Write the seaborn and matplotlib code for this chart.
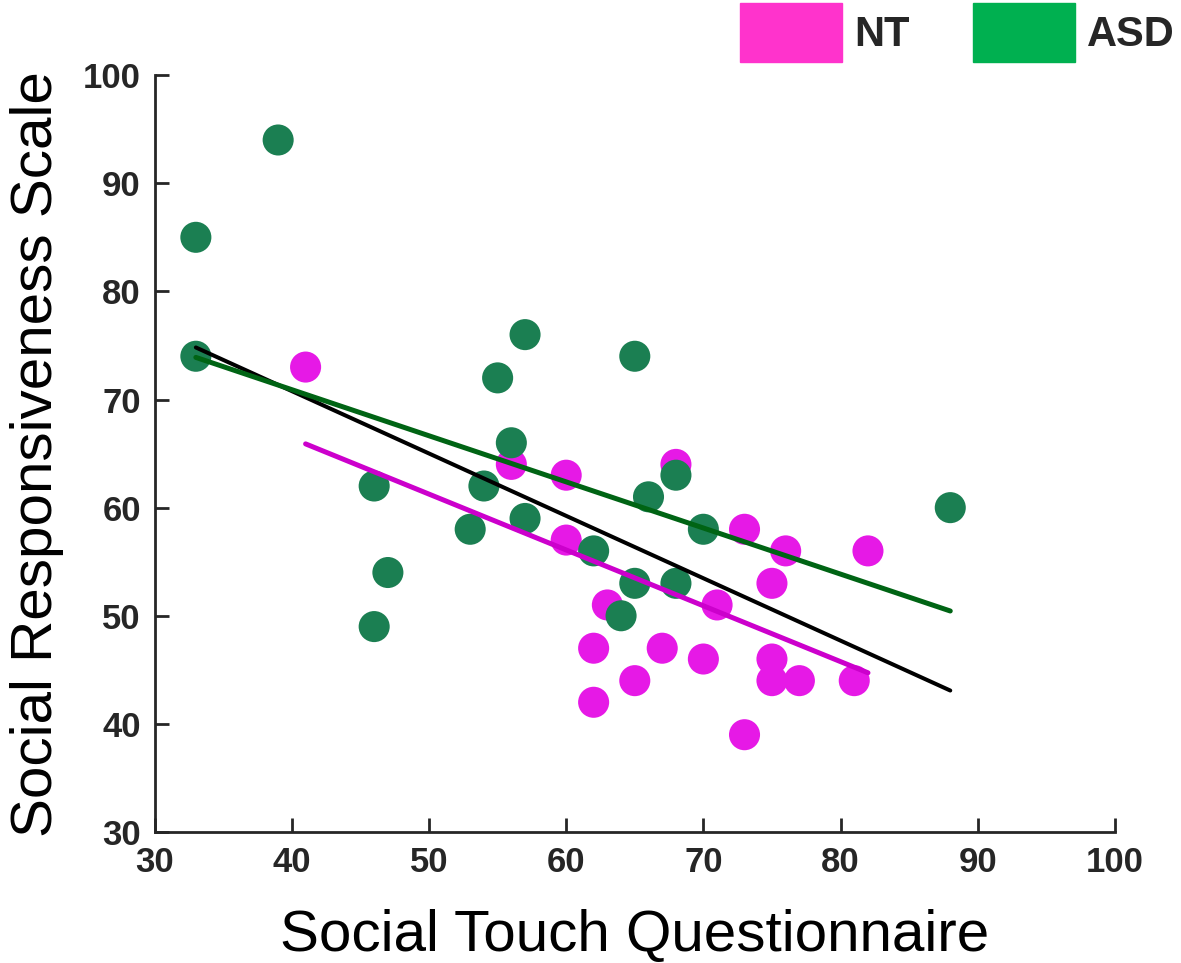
import numpy as np
import pandas as pd
import matplotlib
matplotlib.use('Agg')
import matplotlib.pyplot as plt
from matplotlib.patches import Patch
import seaborn as sns

# Social Touch Questionnaire (x) and Social Responsiveness Scale (y) per group
nt_stq = [41, 56, 60, 60, 68, 63, 62, 67, 70, 65, 62, 71, 73, 76, 82, 75, 75, 75, 77, 81, 73]
nt_srs = [73, 64, 63, 57, 64, 51, 47, 47, 46, 44, 42, 51, 58, 56, 56, 53, 46, 44, 44, 44, 39]
asd_stq = [33, 39, 33, 46, 47, 46, 55, 57, 56, 54, 53, 57, 62, 65, 66, 68, 65, 64, 68, 70, 88]
asd_srs = [85, 94, 74, 62, 54, 49, 72, 76, 66, 62, 58, 59, 56, 74, 61, 63, 53, 50, 53, 58, 60]

df = pd.DataFrame({
    'STQ': nt_stq + asd_stq,
    'SRS': nt_srs + asd_srs,
    'Group': ['NT'] * len(nt_stq) + ['ASD'] * len(asd_stq),
})

sns.set_style('ticks')
plt.rcParams['font.family'] = ['Liberation Sans', 'DejaVu Sans']

fig = plt.figure(figsize=(11.81, 9.63), dpi=100)
ax = fig.add_axes([0.131, 0.136, 0.813, 0.786])

point_colors = {'NT': '#E619E6', 'ASD': '#1B7F52'}
sns.scatterplot(data=df, x='STQ', y='SRS', hue='Group', palette=point_colors,
                s=500, linewidth=0, legend=False, ax=ax, zorder=2)

# regression lines: all subjects, NT, ASD
sns.regplot(data=df, x='STQ', y='SRS', scatter=False, ci=None, ax=ax,
            line_kws=dict(color='black', lw=2.9, zorder=3))
sns.regplot(data=df[df.Group == 'NT'], x='STQ', y='SRS', scatter=False, ci=None, ax=ax,
            line_kws=dict(color='#CC00CC', lw=3.6, zorder=4))
sns.regplot(data=df[df.Group == 'ASD'], x='STQ', y='SRS', scatter=False, ci=None, ax=ax,
            line_kws=dict(color='#006414', lw=3.6, zorder=5))

ax.set_xlim(30, 100)
ax.set_ylim(30, 100)
ax.set_xticks(range(30, 101, 10))
ax.set_yticks(range(30, 101, 10))
ax.tick_params(direction='in', length=10, width=2, color='#262626', labelsize=25, pad=10)
for lab in ax.get_xticklabels() + ax.get_yticklabels():
    lab.set_fontweight('bold')
    lab.set_color('#262626')
for sp in ['left', 'bottom']:
    ax.spines[sp].set_linewidth(2)
    ax.spines[sp].set_color('#262626')
sns.despine(ax=ax)

ax.set_xlabel('Social Touch Questionnaire', fontsize=42, labelpad=22, color='black')
ax.set_ylabel('Social Responsiveness Scale', fontsize=42, labelpad=14, color='black')

handles = [Patch(color='#FF33CC', label='NT'), Patch(color='#00B050', label='ASD')]
leg = fig.legend(handles=handles, ncol=2, loc='upper right', bbox_to_anchor=(1.009, 1.014),
                 frameon=False, prop=dict(weight='bold', size=30),
                 handlelength=2.45, handleheight=1.8, handletextpad=0.3, columnspacing=1.5,
                 borderaxespad=0.0)

fig.savefig('out.png', dpi=100)
